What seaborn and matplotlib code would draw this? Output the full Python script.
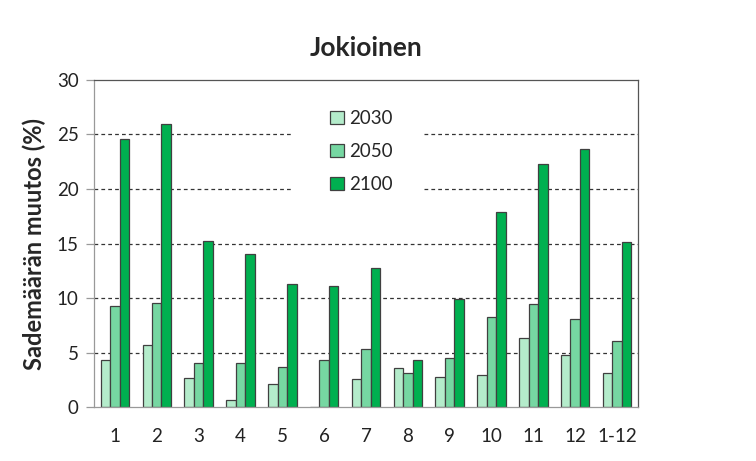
import matplotlib
matplotlib.use("Agg")
import matplotlib.pyplot as plt
from matplotlib.patches import Rectangle
import seaborn as sns
import pandas as pd
import numpy as np

months = ["1", "2", "3", "4", "5", "6", "7", "8", "9", "10", "11", "12", "1-12"]
v2030 = [4.3, 5.7, 2.7, 0.65, 2.15, 0.0, 2.55, 3.55, 2.75, 2.9, 6.3, 4.75, 3.1]
v2050 = [9.3, 9.5, 4.0, 4.0, 3.65, 4.3, 5.35, 3.1, 4.5, 8.25, 9.45, 8.05, 6.05]
v2100 = [24.6, 25.95, 15.25, 14.05, 11.3, 11.1, 12.75, 4.3, 9.9, 17.9, 22.25, 23.65, 15.15]
years = ["2030", "2050", "2100"]
colors = ["#b4eccb", "#76d7a2", "#00b050"]

df = pd.DataFrame({
    "kk": months * 3,
    "vuosi": [y for y in years for _ in months],
    "muutos": v2030 + v2050 + v2100,
})

sns.set_theme(style="white")
plt.rcParams["font.family"] = ["Lato", "DejaVu Sans"]

fig = plt.figure(figsize=(7.56, 4.61), dpi=100)
ax = fig.add_axes([0.1243, 0.1171, 0.7196, 0.7094])

sns.barplot(data=df, x="kk", y="muutos", hue="vuosi", order=months,
            hue_order=years, palette=colors, width=0.68, gap=0,
            edgecolor="#404040", linewidth=0.9, saturation=1, ax=ax)

ax.set_ylim(0, 30)
ax.set_xlim(-0.5, len(months) - 0.5)
ax.set_yticks([0, 5, 10, 15, 20, 25, 30])
ax.set_axisbelow(True)
for yv in [5, 10, 15, 20, 25]:
    ax.axhline(yv, color="#333333", linestyle=(0, (3, 2.5)), linewidth=0.9, zorder=0.5)

# white area behind the legend that interrupts the grid lines
ax.add_patch(Rectangle((0.364, 0.648), 0.241, 0.291, transform=ax.transAxes,
                       facecolor="white", edgecolor="none", zorder=0.8))

ax.set_xticks(np.arange(len(months)))
ax.set_xticklabels(months)
ax.set_xticks(np.arange(-0.5, len(months)), minor=True)
ax.tick_params(axis="x", which="major", length=0, labelsize=13.5, pad=15, colors="#222222")
ax.tick_params(axis="x", which="minor", length=6, width=0.9, color="#999999", direction="out")
ax.tick_params(axis="y", which="major", length=6, width=0.9, color="#999999", labelsize=13.5,
               labelcolor="#222222", left=True, direction="out", pad=5)

ax.spines["left"].set_color("#999999")
ax.spines["bottom"].set_color("#999999")
ax.spines["top"].set_color("#555555")
ax.spines["right"].set_color("#555555")
for s in ax.spines.values():
    s.set_linewidth(0.9)

ax.set_xlabel("")
ax.set_ylabel("Sademäärän muutos (%)", fontsize=17, fontweight="bold", labelpad=8)
ax.set_title("Jokioinen", fontsize=19, fontweight="bold", pad=17)

leg = ax.legend(loc="upper left", bbox_to_anchor=(0.433, 0.908), frameon=False,
                fontsize=13.5, handlelength=0.75, handleheight=0.75, handletextpad=0.3,
                labelspacing=0.85, borderpad=0, borderaxespad=0)
for h in leg.legend_handles:
    h.set_edgecolor("#404040")
    h.set_linewidth(0.9)

fig.savefig("out.png", dpi=100)
